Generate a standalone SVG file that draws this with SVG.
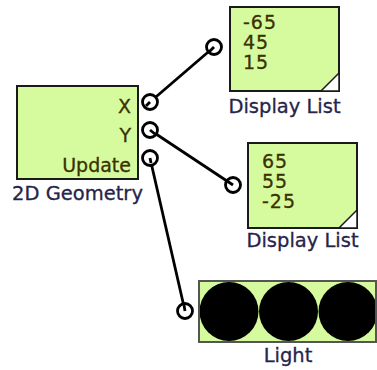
<svg xmlns="http://www.w3.org/2000/svg" width="377" height="370" viewBox="0 0 377 370">
<style>
.box{fill:#d6fb9f;stroke:#1a1a1a;stroke-width:2}
.lbl{font-family:"DejaVu Sans",Verdana,sans-serif;font-size:19.5px;fill:#26244a;stroke:#26244a;stroke-width:0.3}
.val{font-family:"DejaVu Sans",Verdana,sans-serif;font-size:19px;fill:#3a3000;stroke:#3a3000;stroke-width:0.3}
.num{font-family:"DejaVu Sans",Verdana,sans-serif;font-size:19px;letter-spacing:1px;fill:#3a3000;stroke:#3a3000;stroke-width:0.3}
.port{fill:#ffffff;stroke:#000;stroke-width:2.8}
.wire{stroke:#000;stroke-width:2.8;fill:none}
</style>
<rect width="377" height="370" fill="#ffffff"/>
<g id="connectors">
<line class="wire" x1="150" y1="102" x2="214" y2="47"/>
<line class="wire" x1="150" y1="130" x2="233" y2="185"/>
<line class="wire" x1="150" y1="158" x2="185" y2="311"/>
</g>
<g id="geometry2d">
<rect class="box" x="17" y="86" width="121" height="93"/>
<text class="val" x="131" y="112.5" text-anchor="end">X</text>
<text class="val" x="131" y="141.5" text-anchor="end">Y</text>
<text class="val" x="131" y="171.5" text-anchor="end">Update</text>
<text class="lbl" x="77.5" y="200" text-anchor="middle">2D Geometry</text>
<circle class="port" cx="150" cy="102" r="7.5"/>
<circle class="port" cx="150" cy="130" r="7.5"/>
<circle class="port" cx="150" cy="158" r="7.5"/>
<line class="wire" x1="150" y1="102" x2="146" y2="106"/>
<line class="wire" x1="150" y1="130" x2="155" y2="134"/>
<line class="wire" x1="150" y1="158" x2="151" y2="163"/>
</g>
<g id="display1">
<rect class="box" x="230" y="7" width="109" height="84"/>
<polygon points="339,73 339,91 321,91" fill="#fff" stroke="#1a1a1a" stroke-width="1.5"/>
<text class="num" x="243" y="29">-65</text>
<text class="num" x="243" y="49">45</text>
<text class="num" x="243" y="69">15</text>
<text class="lbl" x="284.5" y="112.5" text-anchor="middle">Display List</text>
<circle class="port" cx="214" cy="47" r="7.5"/>
<line class="wire" x1="214" y1="47" x2="209" y2="52"/>
</g>
<g id="display2">
<rect class="box" x="248" y="143" width="109" height="85"/>
<polygon points="357,210 357,228 339,228" fill="#fff" stroke="#1a1a1a" stroke-width="1.5"/>
<text class="num" x="262" y="168">65</text>
<text class="num" x="262" y="188">55</text>
<text class="num" x="262" y="208">-25</text>
<text class="lbl" x="302.5" y="246.5" text-anchor="middle">Display List</text>
<circle class="port" cx="233" cy="185" r="7.5"/>
<line class="wire" x1="233" y1="185" x2="227" y2="181"/>
</g>
<g id="light">
<rect x="199" y="281" width="177" height="61" fill="#d6fb9f" stroke="#555" stroke-width="2"/>
<circle cx="229" cy="311.5" r="29.5" fill="#000"/>
<circle cx="288.5" cy="311.5" r="29.5" fill="#000"/>
<circle cx="348" cy="311.5" r="29.5" fill="#000"/>
<rect x="199" y="281" width="177" height="61" fill="none" stroke="#555" stroke-width="2"/>
<text class="lbl" x="288" y="361.5" text-anchor="middle">Light</text>
<circle class="port" cx="185" cy="311" r="7.5"/>
<line class="wire" x1="185" y1="311" x2="184" y2="305"/>
</g>
</svg>
